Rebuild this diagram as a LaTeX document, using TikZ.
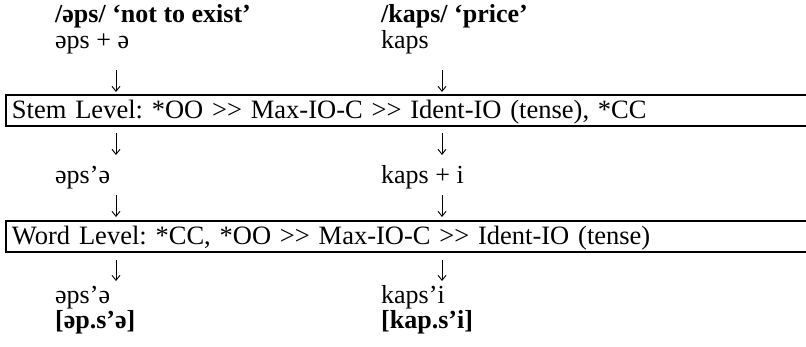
\documentclass[tikz,border=0pt]{standalone}
\usepackage{fontspec}
\setmainfont{Liberation Serif}
\usetikzlibrary{arrows.meta}
\newcommand\dgt{>\kern0pt>}
\frenchspacing
\begin{document}
\begin{tikzpicture}[x=1pt,y=-1pt,
  lbl/.style={anchor=base west,inner sep=0pt,font=\fontsize{26}{30}\selectfont},
  ttl/.style={lbl,font=\fontsize{26}{30}\selectfont\bfseries},
  levelbox/.style={draw,line width=2pt,anchor=north west,text width=820pt,align=left,
     inner xsep=6pt,inner ysep=2.5pt,text height=21pt,text depth=5pt,
     font=\fontsize{26.5}{30}\selectfont\frenchspacing},
  arr/.style={line width=0.9pt,-{Straight Barb[length=5pt,width=8pt,line width=0.9pt]}}]
\useasboundingbox (0,0) rectangle (806,346);
% row 1
\node[ttl] (l1) at (55,22) {/əps/ ‘not to exist’};
\node[ttl] (r1) at (381,22) {/kaps/ ‘price’};
\node[lbl] (l2) at (55,48) {əps + ə};
\node[lbl] (r2) at (381,48) {kaps};
% arrows row 1
\coordinate (a1s) at (116,70); \coordinate (a1e) at (116,92);
\coordinate (b1s) at (442,70); \coordinate (b1e) at (442,92);
\draw[arr] (a1s) -- (a1e);
\draw[arr] (b1s) -- (b1e);
% stem box
\node[levelbox] (stem) at (5,94) {Stem Level: *OO \dgt{} Max-IO-C \dgt{} Ident-IO (tense), *CC};
% arrows row 2
\coordinate (a2s) at (116,133); \coordinate (a2e) at (116,155);
\coordinate (b2s) at (442,133); \coordinate (b2e) at (442,155);
\draw[arr] (a2s) -- (a2e);
\draw[arr] (b2s) -- (b2e);
\node[lbl] (l3) at (55,183) {əps’ə};
\node[lbl] (r3) at (381,183) {kaps + i};
% arrows row 3
\coordinate (a3s) at (116,195); \coordinate (a3e) at (116,217);
\coordinate (b3s) at (442,195); \coordinate (b3e) at (442,217);
\draw[arr] (a3s) -- (a3e);
\draw[arr] (b3s) -- (b3e);
% word box
\node[levelbox] (word) at (5,220) {Word Level: *CC, *OO \dgt{} Max-IO-C \dgt{} Ident-IO (tense)};
% arrows row 4
\coordinate (a4s) at (116,260); \coordinate (a4e) at (116,281);
\coordinate (b4s) at (442,260); \coordinate (b4e) at (442,281);
\draw[arr] (a4s) -- (a4e);
\draw[arr] (b4s) -- (b4e);
\node[lbl] (l4) at (55,303) {əps’ə};
\node[lbl] (r4) at (381,303) {kaps’i};
\node[ttl] (l5) at (55,328) {[əp.s’ə]};
\node[ttl] (r5) at (381,328) {[kap.s’i]};
\end{tikzpicture}
\end{document}
